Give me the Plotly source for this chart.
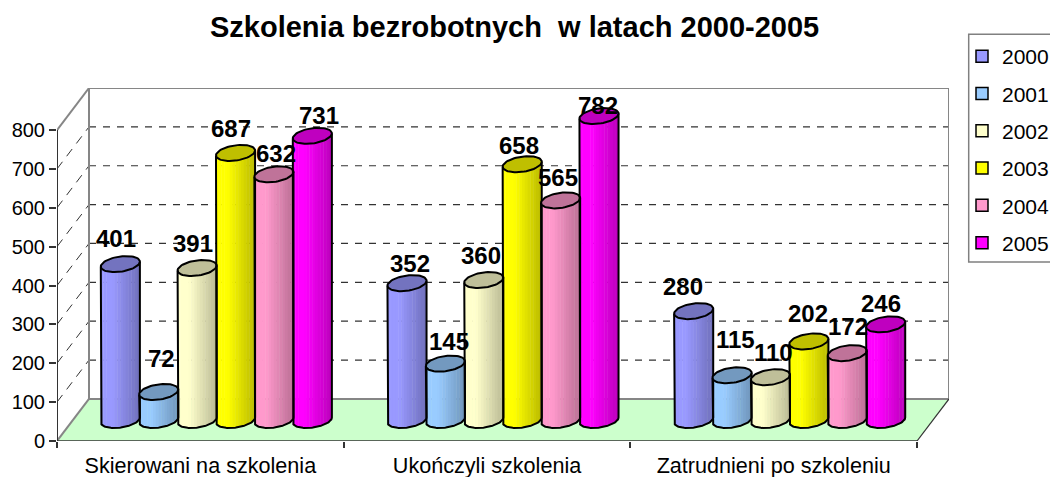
import numpy as np
import plotly.graph_objects as go

# ---- data ----
categories = ["Skierowani na szkolenia", "Ukończyli szkolenia", "Zatrudnieni po szkoleniu"]
years = ["2000", "2001", "2002", "2003", "2004", "2005"]
v2000 = [401, 352, 280]
v2001 = [72, 145, 115]
v2002 = [391, 360, 110]
v2003 = [687, 658, 202]
v2004 = [632, 565, 172]
v2005 = [731, 782, 246]
series = [v2000, v2001, v2002, v2003, v2004, v2005]
y_ticks = [0, 100, 200, 300, 400, 500, 600, 700, 800]

# ---- style ----
colors = [(153, 153, 255), (153, 204, 255), (255, 255, 204), (255, 255, 0), (255, 153, 204), (255, 0, 255)]
FONT = "Liberation Sans"
# px offsets of the value labels relative to the top of each cylinder
label_dx = [[-4, 3, -4.5, -4.5, 2, 7], [3, 4, -2.5, -3.7, -3, -1.5], [-11, 3, 3, -1, 0.5, -5]]
label_dy = [[26, 33, 25, 24, 21, 20], [20, 22, 25, 19, 23, 11], [25, 36, 25, 28, 27, 21]]

# ---- plot frame (pixels) ----
PX_L, PX_R, PX_T, PX_B = 57.3, 949.3, 88.3, 440.7
PX_PER_CAT = 286.67
PX_PER_UNIT = 0.388
DX = 32 / PX_PER_CAT        # depth of the box in x units
DY = 42 / PX_PER_UNIT       # depth of the box in value units
SPACING = 38.4 / PX_PER_CAT
R = 18.6 / PX_PER_CAT
KX = 6 / PX_PER_CAT
KY = 8 / PX_PER_UNIT
HALF = np.hypot(R, KX)
N_STRIPS = 14

t0 = np.arctan2(KX, R)
t_low = np.linspace(np.pi + t0, 2 * np.pi + t0, 60)  # left silhouette -> front -> right silhouette
low_x = R * np.cos(t_low) + KX * np.sin(t_low)
low_y = KY * np.sin(t_low)


def shade(c, m):
    return "rgb(%d,%d,%d)" % tuple(round(v * m) for v in c)


fig = go.Figure()

# back wall, floor, grid
def seg(x0, y0, x1, y1, color, width, dash="solid"):
    return dict(type="line", xref="x", yref="y", x0=x0, y0=y0, x1=x1, y1=y1, layer="below",
                line=dict(color=color, width=width, dash=dash))

X_MAX = 3
shapes = [
    dict(type="path", xref="x", yref="y", layer="below", fillcolor="#CCFFCC", line=dict(width=0),
         path=f"M0,0 L{X_MAX},0 L{X_MAX + DX},{DY} L{DX},{DY} Z"),
]
for v in y_ticks[1:-1]:
    shapes.append(seg(DX, v + DY, X_MAX + DX, v + DY, "#333333", 1.2, "7px,7px"))
    shapes.append(seg(0, v, DX, v + DY, "#333333", 1, "9px,7px"))
GREY = "#868686"
shapes += [
    seg(DX, DY, DX, 800 + DY, GREY, 2),
    seg(DX, 800 + DY, X_MAX + DX, 800 + DY, GREY, 2),
    seg(X_MAX + DX, DY, X_MAX + DX, 800 + DY, GREY, 2),
    seg(DX, DY, X_MAX + DX, DY, GREY, 2),
    seg(0, 0, DX, DY, GREY, 2),
    seg(0, 800, DX, 800 + DY, GREY, 2),
    seg(0, 0, 0, 800, "#333333", 2),
    seg(0, 0, X_MAX, 0, "#333333", 1.5),
    seg(X_MAX, 0, X_MAX + DX, DY, "#333333", 1.2),
    # legend frame
    dict(type="rect", xref="paper", yref="paper", x0=(969 - PX_L) / (PX_R - PX_L), x1=(1060 - PX_L) / (PX_R - PX_L),
         y0=(PX_B - 262) / (PX_B - PX_T), y1=(PX_B - 34.7) / (PX_B - PX_T), layer="below",
         line=dict(color="#808080", width=1.5), fillcolor="white"),
]

u = (np.arange(N_STRIPS) + 0.5) / N_STRIPS * 2 - 1
mult = 1 - 0.27 * np.clip((u + 0.4) / 1.4, 0, 1)
strip_w = 2 * HALF / N_STRIPS
annotations = []

for s, (name, vals, col) in enumerate(zip(years, series, colors)):
    xs, bases, heights, cols = [], [], [], []
    centers = [c + 0.5 + DX / 2 + (s - 2.5) * SPACING for c in range(len(categories))]
    for cx, val in zip(centers, vals):
        ox = u * HALF
        xs += list(cx + ox)
        bases += list(DY / 2 + np.interp(ox, low_x, low_y))
        heights += [val + 3] * N_STRIPS
        cols += [shade(col, m) for m in mult]
    fig.add_trace(go.Bar(x=xs, y=heights, base=bases, width=strip_w * 1.15, showlegend=False,
                         marker=dict(color=cols, line=dict(width=0)), hoverinfo="skip", legendgroup=name))
    # legend swatch
    fig.add_trace(go.Bar(x=[None], y=[None], name=name, legendgroup=name, hoverinfo="skip",
                         marker=dict(color=shade(col, 1), line=dict(color="black", width=1.5))))

for s, (name, vals, col) in enumerate(zip(years, series, colors)):
    centers = [c + 0.5 + DX / 2 + (s - 2.5) * SPACING for c in range(len(categories))]
    for c, (cx, val) in enumerate(zip(centers, vals)):
        top = DY / 2 + val
        # silhouette
        sx = np.r_[cx + low_x[0], cx + low_x, cx + low_x[-1]]
        sy = np.r_[top + low_y[0], DY / 2 + low_y, top + low_y[-1]]
        fig.add_trace(go.Scatter(x=sx, y=sy, mode="lines", line=dict(color="black", width=2),
                                 showlegend=False, hoverinfo="skip"))
        # top cap
        tt = np.linspace(0, 2 * np.pi, 61)
        fig.add_trace(go.Scatter(x=cx + R * np.cos(tt) + KX * np.sin(tt), y=top + KY * np.sin(tt),
                                 mode="lines", fill="toself", fillcolor=shade(col, 0.75),
                                 line=dict(color="black", width=2), showlegend=False, hoverinfo="skip"))
        annotations.append(dict(x=cx, y=top, xref="x", yref="y", text=str(val), showarrow=False,
                                xshift=label_dx[c][s], yshift=label_dy[c][s],
                                font=dict(family=FONT, size=24, color="black", weight="bold")))

annotations.append(dict(text="Szkolenia bezrobotnych  w latach 2000-2005", xref="paper", yref="paper",
                        x=(515 - PX_L) / (PX_R - PX_L), y=(PX_B - 27) / (PX_B - PX_T), showarrow=False,
                        xanchor="center", yanchor="middle",
                        font=dict(family=FONT, size=29, color="black", weight="bold")))

fig.update_layout(
    width=1050, height=477, barmode="overlay", plot_bgcolor="white", paper_bgcolor="white",
    margin=dict(l=PX_L, r=1050 - PX_R, t=PX_T, b=477 - PX_B, pad=0, autoexpand=False),
    font=dict(family=FONT, size=20, color="black"),
    shapes=shapes, annotations=annotations,
    xaxis=dict(range=[0, X_MAX + DX], tickmode="array", tickvals=[0.5, 1.5, 2.5], ticktext=categories,
               ticks="", ticklen=0, showgrid=False, showline=False, zeroline=False, ticklabelstandoff=9,
               tickfont=dict(family=FONT, size=21.6),
               minor=dict(tickmode="array", tickvals=[0, 1, 2, 3], ticks="outside", ticklen=6, tickwidth=1.5,
                          tickcolor="#333333", showgrid=False)),
    yaxis=dict(range=[0, 800 + DY], tickmode="array", tickvals=y_ticks, ticks="outside", ticklen=7, tickwidth=1.5,
               tickcolor="#333333", showgrid=False, showline=False, zeroline=False,
               tickfont=dict(family=FONT, size=20)),
    legend=dict(xref="container", yref="container", x=962 / 1050, y=1 - 36 / 477, xanchor="left", yanchor="top",
                tracegroupgap=7, borderwidth=0, bgcolor="rgba(0,0,0,0)", font=dict(family=FONT, size=21)),
    showlegend=True,
)

fig.write_html("out.html", post_script="document.body.style.margin='0';", config=dict(displayModeBar=False))
